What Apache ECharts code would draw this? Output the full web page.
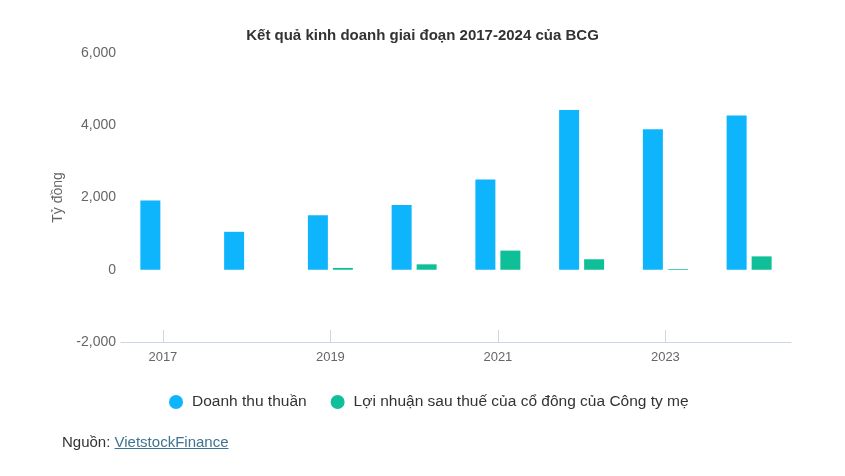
<!DOCTYPE html>
<html>
<head>
<meta charset="utf-8">
<script src="https://cdn.jsdelivr.net/npm/echarts@6/dist/echarts.min.js"></script>
<style>
    html, body { margin: 0; padding: 0; background: #fff; }
    #chart { width: 845px; height: 476px; }
    #source {
        position: absolute; left: 62px; top: 433px;
        font-family: "Liberation Sans", Arial, sans-serif;
        font-size: 15px; color: #333;
    }
    #source a { color: #3f7390; text-decoration: underline; }
</style>
</head>
<body>
<div id="chart"></div>
<div id="source">Nguồn: <a>VietstockFinance</a></div>
<script>
// số liệu (tỷ đồng)
const years = ['2017', '2018', '2019', '2020', '2021', '2022', '2023', '2024'];
const doanhThu = [1920, 1050, 1510, 1790, 2500, 4420, 3890, 4270];
const loiNhuan = [null, null, 50, 150, 530, 290, 20, 370];
const yTicks = { min: -2000, max: 6000, interval: 2000 };

function renderChart() {
    const chart = echarts.init(document.getElementById('chart'));
    const font = '"Liberation Sans", Arial, sans-serif';

    const option = {
        animation: false,
        title: {
            text: 'Kết quả kinh doanh giai đoạn 2017-2024 của BCG',
            left: 'center',
            top: 23,
            textStyle: { fontFamily: font, fontSize: 15, fontWeight: 'bold', color: '#333' }
        },
        legend: {
            left: 164,
            top: 389,
            icon: 'circle',
            itemWidth: 22,
            itemHeight: 14,
            itemGap: 24,
            textStyle: { fontFamily: font, fontSize: 15.5, color: '#333' }
        },
        grid: { left: 121, right: 54, top: 53, bottom: 134 },
        xAxis: {
            type: 'category',
            data: years,
            axisLine: { show: true, onZero: false, lineStyle: { color: '#ccd6eb' } },
            axisTick: {
                show: true,
                alignWithLabel: true,
                inside: true,
                length: 12,
                interval: 1,
                lineStyle: { color: '#ccd6eb', width: 1 }
            },
            axisLabel: { interval: 1, margin: 9, color: '#666', fontFamily: font, fontSize: 13 }
        },
        yAxis: {
            type: 'value',
            min: yTicks.min,
            max: yTicks.max,
            interval: yTicks.interval,
            name: 'Tỷ đồng',
            nameLocation: 'middle',
            nameRotate: 90,
            nameGap: 47,
            nameTextStyle: { fontFamily: font, fontSize: 14, color: '#666' },
            splitLine: { show: false },
            axisLine: { show: false },
            axisTick: { show: false },
            axisLabel: {
                margin: 5,
                color: '#666',
                fontFamily: font,
                fontSize: 14,
                formatter: v => v.toLocaleString('en-US')
            }
        },
        series: [
            {
                name: 'Doanh thu thuần',
                type: 'bar',
                data: doanhThu,
                barWidth: 20,
                barGap: '25%',
                itemStyle: { color: '#0eb4fc' }
            },
            {
                name: 'Lợi nhuận sau thuế của cổ đông của Công ty mẹ',
                type: 'bar',
                data: loiNhuan,
                barWidth: 20,
                itemStyle: { color: '#0ebf97' }
            }
        ]
    };

    chart.setOption(option);
}

renderChart();
</script>
</body>
</html>
